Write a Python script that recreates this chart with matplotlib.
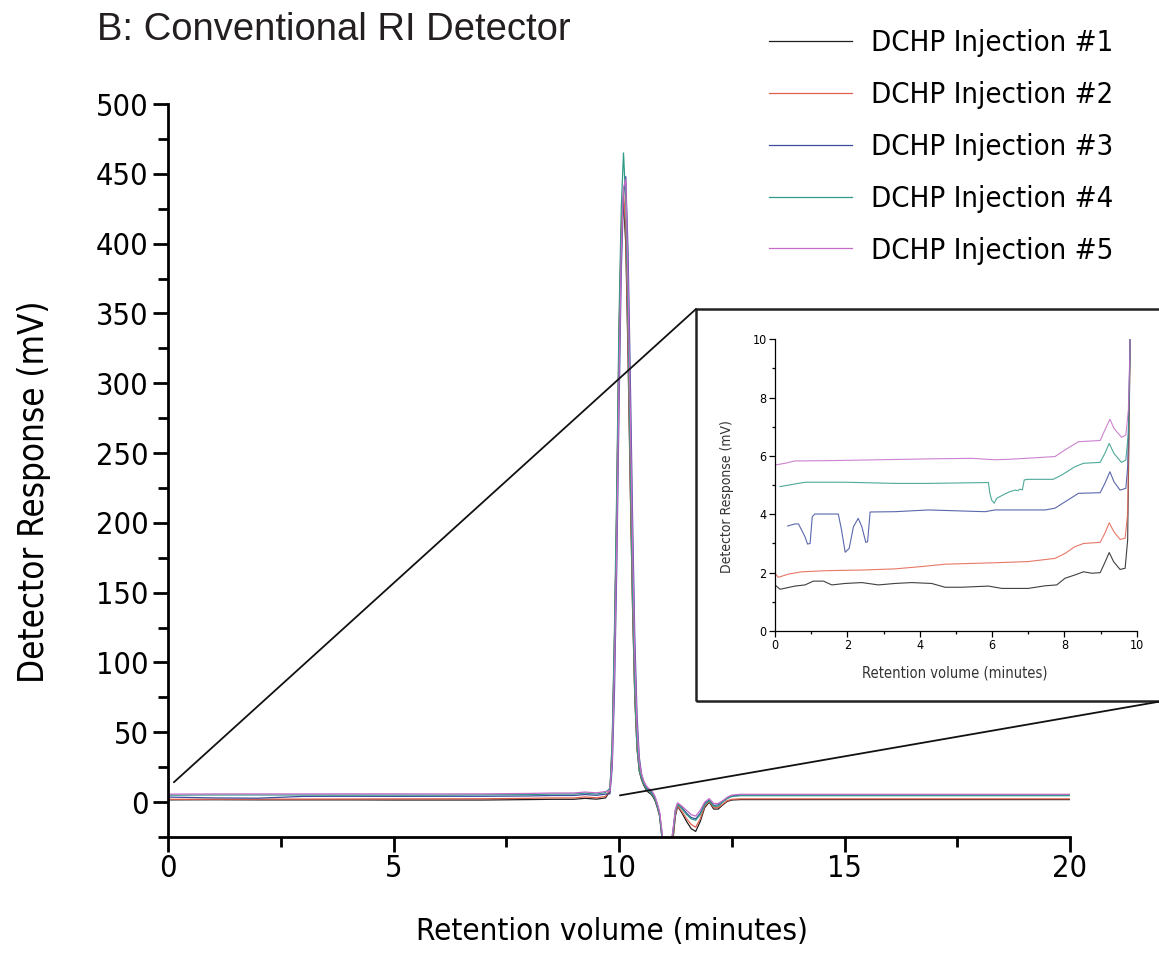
import matplotlib
matplotlib.use('Agg')
import matplotlib.pyplot as plt
from matplotlib.patches import Rectangle, ConnectionPatch
from matplotlib.ticker import MultipleLocator
from matplotlib import font_manager

# condensed face if the DejaVu condensed files are there, plain DejaVu otherwise
_cond = [f for f in font_manager.fontManager.ttflist
         if f.name == 'DejaVu Sans' and 'condensed' in str(f.stretch) and f.style == 'normal']
plt.rcParams['font.family'] = ['DejaVu Sans']
plt.rcParams['font.stretch'] = 'condensed' if _cond else 'normal'
CONDENSED = bool(_cond)

# ── data ────────────────────────────────────────────────────────────────────
labels = ['DCHP Injection #1', 'DCHP Injection #2', 'DCHP Injection #3',
          'DCHP Injection #4', 'DCHP Injection #5']
colors = ['#1e1e1e', '#e4604e', '#3d4d9e', '#2f9a88', '#c46cc6']

# main chromatogram (minutes, mV)
main_x = [0, 1, 2, 3, 4, 5, 6, 7, 8, 8.5, 9, 9.25, 9.5, 9.7,
          9.8, 9.85, 9.9, 9.95, 10.0, 10.05, 10.1, 10.15, 10.2, 10.25, 10.3, 10.35,
          10.4, 10.45, 10.5, 10.55, 10.6, 10.65, 10.7, 10.75, 10.8, 10.85, 10.9, 10.95,
          11.0, 11.1, 11.2, 11.25, 11.3, 11.4, 11.5, 11.6, 11.7, 11.8, 11.9, 12.0,
          12.1, 12.2, 12.3, 12.4, 12.5, 12.7, 13, 14, 16, 18, 20]

inj1 = [1.6, 1.7, 1.6, 1.6, 1.6, 1.5, 1.5, 1.5, 1.8, 2.0, 2.0, 2.7, 2.1, 3.0,
        8, 40, 115, 210, 330, 405, 430, 400, 320, 225, 140, 75,
        38, 22, 16, 12, 9, 7, 6, 4, 1, -4, -10, -25,
        -40, -48, -26, -10, -3, -8, -14, -19, -21, -14, -4, 0,
        -5, -5, -2, 0.5, 1.5, 1.8, 1.8, 1.8, 1.8, 1.8, 1.8]
inj2 = [2.0, 2.05, 2.1, 2.15, 2.2, 2.3, 2.35, 2.4, 2.7, 3.0, 3.0, 3.7, 3.1, 4.0,
        9, 42, 118, 215, 335, 412, 438, 408, 326, 230, 143, 77,
        39, 23, 17, 13, 10, 8, 7, 5, 2, -3, -9, -24,
        -39, -46, -24, -9, -2.5, -7, -12, -16, -18, -12, -3, 0.5,
        -4, -4, -1.5, 1, 2, 2.3, 2.3, 2.3, 2.3, 2.3, 2.3]
inj3 = [3.6, 3.0, 2.8, 4.1, 4.15, 4.1, 4.15, 4.15, 4.4, 4.72, 4.74, 5.4, 4.85, 5.7,
        6, 25, 80, 168, 280, 380, 435, 448, 395, 305, 205, 118,
        62, 32, 20, 14, 11, 9, 8, 6, 3, -2, -8, -22,
        -38, -44, -20, -6, -1, -4, -8, -11, -12, -8, -1, 1.5,
        -2.4, -2, 0.5, 3, 4.5, 5.0, 5.0, 5.0, 5.0, 5.0, 5.0]
inj4 = [4.95, 5.1, 5.1, 5.08, 5.06, 5.06, 5.0, 5.2, 5.35, 5.75, 5.78, 6.4, 5.8, 6.8,
        10, 45, 125, 225, 345, 425, 465, 430, 345, 242, 150, 80,
        40, 23, 17, 13, 10, 8, 7, 5, 2, -3, -9, -24,
        -38, -45, -21, -7, -1.5, -5, -9, -12, -13, -9, -2, 1,
        -3, -3, 0, 2.5, 4, 4.6, 4.6, 4.6, 4.6, 4.6, 4.6]
inj5 = [5.7, 5.84, 5.85, 5.87, 5.9, 5.92, 5.87, 5.9, 6.2, 6.5, 6.53, 7.2, 6.6, 7.6,
        8, 30, 95, 185, 300, 395, 440, 446, 375, 280, 185, 105,
        55, 29, 20, 15, 12, 10, 9, 7, 4, -1, -7, -20,
        -36, -43, -19, -5, -0.5, -3, -6, -9, -10, -6, 0, 2.5,
        -1, -1, 1, 3.5, 5, 5.6, 5.6, 5.6, 5.6, 5.6, 5.6]
main_y = [inj1, inj2, inj3, inj4, inj5]

# inset: baseline before the peak (0-10 min, 0-10 mV)
in1_x = [0, 0.14, 0.55, 0.83, 1.06, 1.34, 1.57, 1.94, 2.4, 2.86, 3.32, 3.78, 4.33, 4.7,
         5.16, 5.9, 6.27, 7.0, 7.47, 7.79, 8.02, 8.29, 8.53, 8.76, 8.99, 9.11, 9.24,
         9.36, 9.54, 9.68, 9.75, 9.82]
in1_y = [1.58, 1.43, 1.54, 1.58, 1.71, 1.71, 1.58, 1.63, 1.66, 1.58, 1.63, 1.66, 1.63, 1.5,
         1.5, 1.54, 1.46, 1.46, 1.55, 1.58, 1.81, 1.92, 2.03, 1.98, 2.0, 2.32, 2.69,
         2.38, 2.11, 2.15, 3.12, 10.0]
in2_x = [0, 0.09, 0.37, 0.74, 1.47, 2.4, 3.32, 4.06, 4.7, 6.08, 7.0, 7.74, 8.02, 8.29,
         8.53, 8.99, 9.12, 9.24, 9.37, 9.54, 9.68, 9.75, 9.82]
in2_y = [1.98, 1.84, 1.95, 2.03, 2.07, 2.09, 2.13, 2.21, 2.29, 2.34, 2.38, 2.49, 2.66, 2.89,
         3.0, 3.04, 3.35, 3.71, 3.4, 3.14, 3.18, 4.03, 10.0]
in3_x = [0.35, 0.55, 0.65, 0.83, 0.9, 0.97, 1.03, 1.1, 1.75, 1.84, 1.94, 2.05, 2.17, 2.3,
         2.4, 2.51, 2.56, 2.63, 3.32, 4.24, 5.81, 6.08, 7.47, 7.74, 8.02, 8.39, 8.99,
         9.12, 9.26, 9.37, 9.54, 9.7, 9.75, 9.82]
in3_y = [3.6, 3.67, 3.67, 3.23, 2.98, 3.0, 3.92, 4.01, 4.01, 3.46, 2.7, 2.83, 3.58, 3.86,
         3.58, 3.04, 3.06, 4.08, 4.09, 4.15, 4.09, 4.15, 4.15, 4.21, 4.43, 4.72, 4.74,
         5.06, 5.46, 5.12, 4.83, 4.89, 5.63, 10.0]
in4_x = [0.14, 0.55, 0.83, 1.94, 3.32, 4.24, 5.9, 5.94, 5.99, 6.06, 6.13, 6.36, 6.5, 6.64,
         6.71, 6.77, 6.84, 6.89, 7.0, 7.69, 7.93, 8.29, 8.53, 8.99, 9.12, 9.24, 9.37,
         9.58, 9.7, 9.77, 9.82]
in4_y = [4.95, 5.04, 5.1, 5.1, 5.06, 5.06, 5.09, 4.72, 4.49, 4.38, 4.55, 4.7, 4.78, 4.83,
         4.81, 4.86, 4.84, 5.18, 5.2, 5.2, 5.35, 5.63, 5.75, 5.78, 6.09, 6.43, 6.09,
         5.78, 5.86, 6.78, 10.0]
in5_x = [0, 0.28, 0.55, 1.47, 2.86, 4.24, 5.44, 6.08, 6.54, 7.74, 8.02, 8.39, 8.99, 9.12,
         9.26, 9.37, 9.58, 9.7, 9.77, 9.82]
in5_y = [5.69, 5.75, 5.83, 5.84, 5.87, 5.9, 5.92, 5.87, 5.89, 5.98, 6.21, 6.49, 6.53, 6.89,
         7.26, 6.95, 6.64, 6.72, 7.58, 10.0]
inset_x = [in1_x, in2_x, in3_x, in4_x, in5_x]
inset_y = [in1_y, in2_y, in3_y, in4_y, in5_y]

# ── figure ──────────────────────────────────────────────────────────────────
W, H = 1159, 958
fig = plt.figure(figsize=(W / 100, H / 100), dpi=100)

def fx(px):
    return px / W

def fy(py):
    return 1 - py / H

TICK_FS = 22 if CONDENSED else 19
YLAB_FS = 25 if CONDENSED else 21
XLAB_FS = 22.5 if CONDENSED else 19
LEG_FS = 21 if CONDENSED else 18

# main axes
ax = fig.add_axes([fx(168), fy(837), fx(1070) - fx(168), fy(104) - fy(837)])
for ys, c, lab in zip(main_y, colors, labels):
    ax.plot(main_x, ys, color=c, lw=0.9, label=lab)
ax.set_xlim(0, 20)
ax.set_ylim(-25, 500)
for s in ['top', 'right']:
    ax.spines[s].set_visible(False)
for s in ['left', 'bottom']:
    ax.spines[s].set_linewidth(2)
ax.xaxis.set_major_locator(MultipleLocator(5))
ax.xaxis.set_minor_locator(MultipleLocator(2.5))
ax.yaxis.set_major_locator(MultipleLocator(50))
ax.yaxis.set_minor_locator(MultipleLocator(25))
ax.tick_params(which='major', direction='out', length=11, width=2,
               labelsize=TICK_FS, pad=3)
ax.tick_params(which='minor', direction='out', length=7, width=2)
ax.tick_params(axis='x', which='major', pad=1)

ax.legend(loc='upper left', bbox_to_anchor=(fx(769), fy(29)),
          bbox_transform=fig.transFigure, frameon=False, fontsize=LEG_FS,
          handlelength=2.85, handletextpad=0.65, labelspacing=0.82,
          borderaxespad=0, borderpad=0)

fig.text(fx(97), fy(30), 'B: Conventional RI Detector', family='Liberation Sans',
         stretch='normal', fontsize=27.5, color='#231f20', ha='left', va='center')
fig.text(fx(34), fy(492), 'Detector Response (mV)', fontsize=YLAB_FS, rotation=90,
         ha='center', va='center')
fig.text(fx(612), fy(931), 'Retention volume (minutes)', fontsize=XLAB_FS,
         ha='center', va='center')

# inset frame + zoom lines
frame_l, frame_t, frame_b, frame_r = fx(696), fy(309), fy(701), fx(1163)
fig.add_artist(Rectangle((frame_l, frame_b), frame_r - frame_l, frame_t - frame_b,
                         transform=fig.transFigure, fill=False, lw=1.8, ec='#222222'))
fig.add_artist(ConnectionPatch(xyA=(0.13, 14.2), coordsA=ax.transData,
                               xyB=(frame_l, frame_t), coordsB=fig.transFigure,
                               color='#111111', lw=1.3))
fig.add_artist(ConnectionPatch(xyA=(10.02, 4.8), coordsA=ax.transData,
                               xyB=(frame_r, frame_b), coordsB=fig.transFigure,
                               color='#111111', lw=1.3))

# inset axes
ax2 = fig.add_axes([fx(775), fy(631), fx(1136.7) - fx(775), fy(339.3) - fy(631)])
for xs, ys, c in zip(inset_x, inset_y, colors):
    ax2.plot(xs, ys, color=c, lw=0.8, alpha=0.85)
ax2.set_xlim(0, 10)
ax2.set_ylim(0, 10)
for s in ['top', 'right']:
    ax2.spines[s].set_visible(False)
for s in ['left', 'bottom']:
    ax2.spines[s].set_linewidth(0.9)
ax2.xaxis.set_major_locator(MultipleLocator(2))
ax2.xaxis.set_minor_locator(MultipleLocator(1))
ax2.yaxis.set_major_locator(MultipleLocator(2))
ax2.yaxis.set_minor_locator(MultipleLocator(1))
ax2.tick_params(which='major', direction='out', length=4, width=0.9, labelsize=9, pad=2)
ax2.tick_params(which='minor', direction='out', length=2.5, width=0.9)
fig.text(fx(727), fy(497), 'Detector Response (mV)', fontsize=10, rotation=90,
         ha='center', va='center', color='#333333')
fig.text(fx(955), fy(673), 'Retention volume (minutes)', fontsize=10.5,
         ha='center', va='center', color='#333333')

fig.savefig('out.png', dpi=100)
